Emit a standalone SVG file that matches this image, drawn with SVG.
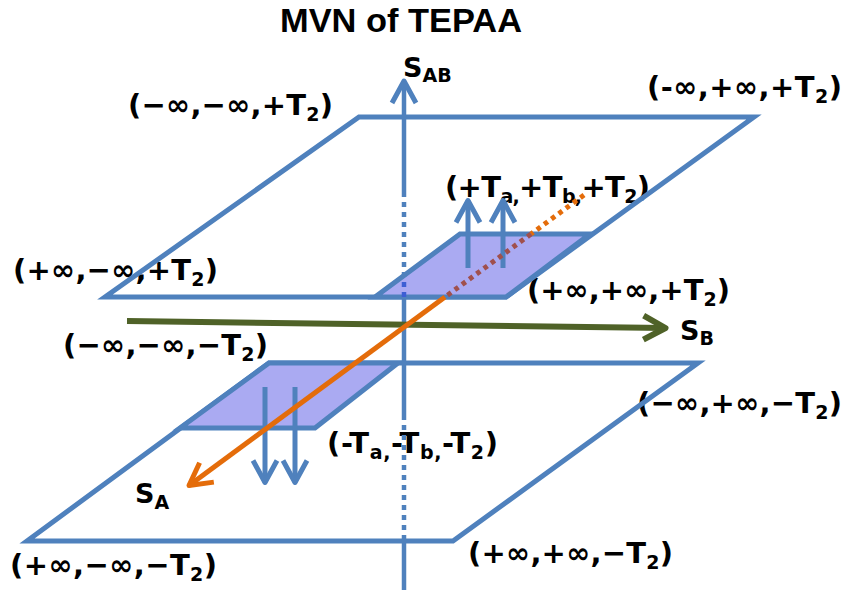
<svg xmlns="http://www.w3.org/2000/svg" width="845" height="599" viewBox="0 0 845 599">
<style>
  .lbl { font-family: "DejaVu Sans", "Liberation Sans", sans-serif; font-weight: bold; font-size: 29px; fill: #000; }
  .sub { font-size: 19px; }
  .s { font-family: "DejaVu Sans", "Liberation Sans", sans-serif; font-weight: bold; font-size: 27px; fill: #000; }
  .title { font-family: "Liberation Sans", Arial, sans-serif; font-weight: bold; font-size: 33px; fill: #000; }
  .plane { fill: none; stroke: #4f81bd; stroke-width: 5; stroke-linejoin: miter; }
  .region { fill: #aaaaf2; stroke: #4f81bd; stroke-width: 5; stroke-linejoin: miter; }
  .blue { stroke: #4f81bd; stroke-width: 5; fill: none; }
  .axis { stroke: #4f81bd; stroke-width: 4.5; fill: none; }
  .dash { stroke-dasharray: 5 5; }
  .green { stroke: #4f6228; stroke-width: 6; fill: none; }
  .orange { stroke: #e46c0a; stroke-width: 5; fill: none; }
  .odot { stroke-dasharray: 4.5 4.5; }
</style>
<defs>
  <marker id="ah-blue" markerUnits="userSpaceOnUse" viewBox="-30 -20 40 40" markerWidth="40" markerHeight="40" refX="0" refY="0" orient="auto" overflow="visible">
    <path d="M-22,-12 L0,0 L-22,12" fill="none" stroke="#4f81bd" stroke-width="5" stroke-linejoin="round"/>
  </marker>
  <marker id="ah-green" markerUnits="userSpaceOnUse" viewBox="-30 -20 40 40" markerWidth="40" markerHeight="40" refX="0" refY="0" orient="auto" overflow="visible">
    <path d="M-22,-12 L0,0 L-22,12" fill="none" stroke="#4f6228" stroke-width="6" stroke-linejoin="round"/>
  </marker>
  <marker id="ah-orange" markerUnits="userSpaceOnUse" viewBox="-30 -20 40 40" markerWidth="40" markerHeight="40" refX="0" refY="0" orient="auto" overflow="visible">
    <path d="M-22,-12 L0,0 L-22,12" fill="none" stroke="#e46c0a" stroke-width="5" stroke-linejoin="round"/>
  </marker>
</defs>

<text class="title" x="401" y="32" text-anchor="middle" textLength="242" lengthAdjust="spacingAndGlyphs">MVN of TEPAA</text>

<g id="labels">
  <text class="lbl" x="128" y="115" textLength="205">(−∞,−∞,+T<tspan class="sub" dy="6">2</tspan><tspan dy="-6">)</tspan></text>
  <text class="lbl" x="647" y="97" textLength="195">(-∞,+∞,+T<tspan class="sub" dy="6">2</tspan><tspan dy="-6">)</tspan></text>
  <text class="lbl" x="13" y="280" textLength="205">(+∞,−∞,+T<tspan class="sub" dy="6">2</tspan><tspan dy="-6">)</tspan></text>
  <text class="lbl" x="527" y="300" textLength="203">(+∞,+∞,+T<tspan class="sub" dy="6">2</tspan><tspan dy="-6">)</tspan></text>
  <text class="lbl" x="63" y="355" textLength="205">(−∞,−∞,−T<tspan class="sub" dy="6">2</tspan><tspan dy="-6">)</tspan></text>
  <text class="lbl" x="637" y="413" textLength="205">(−∞,+∞,−T<tspan class="sub" dy="6">2</tspan><tspan dy="-6">)</tspan></text>
  <text class="lbl" x="10" y="575" textLength="207">(+∞,−∞,−T<tspan class="sub" dy="6">2</tspan><tspan dy="-6">)</tspan></text>
  <text class="lbl" x="468" y="563" textLength="205">(+∞,+∞,−T<tspan class="sub" dy="6">2</tspan><tspan dy="-6">)</tspan></text>
  <text class="lbl" x="445" y="197" textLength="205">(+T<tspan class="sub" dy="6">a,</tspan><tspan dy="-6">+T</tspan><tspan class="sub" dy="6">b,</tspan><tspan dy="-6">+T</tspan><tspan class="sub" dy="6">2</tspan><tspan dy="-6">)</tspan></text>
  <text class="lbl" x="327" y="453" textLength="171">(-T<tspan class="sub" dy="6">a,</tspan><tspan dy="-6">-T</tspan><tspan class="sub" dy="6">b,</tspan><tspan dy="-6">-T</tspan><tspan class="sub" dy="6">2</tspan><tspan dy="-6">)</tspan></text>
  <text class="s" x="403" y="77">S<tspan class="sub" dy="5">AB</tspan></text>
  <text class="s" x="680" y="340">S<tspan class="sub" dy="5">B</tspan></text>
  <text class="s" x="135" y="503">S<tspan class="sub" dy="6">A</tspan></text>
</g>

<g id="plane-top">
  <polygon class="plane" points="359,117 754,117 506,297 105,297"/>
</g>
<g id="region-top">
  <polygon class="region" points="460,234 590,234 506,297 375,297"/>
</g>
<g id="plane-bottom">
  <polygon class="plane" points="269,363 698,363 453,541 27,541"/>
</g>
<g id="region-bottom">
  <polygon class="region" points="269,363 398,363 315,428 180,428"/>
</g>

<g id="connectors">
  <line class="blue" x1="468" y1="268" x2="468" y2="200.5" marker-end="url(#ah-blue)"/>
  <line class="blue" x1="503" y1="268" x2="503" y2="200.5" marker-end="url(#ah-blue)"/>
  <line class="blue" x1="265" y1="387" x2="265" y2="482.5" marker-end="url(#ah-blue)"/>
  <line class="blue" x1="295" y1="387" x2="295" y2="482.5" marker-end="url(#ah-blue)"/>
  <line class="axis" x1="404" y1="590" x2="404" y2="540"/>
  <line class="axis dash" x1="404" y1="540" x2="404" y2="420"/>
  <line class="axis" x1="404" y1="420" x2="404" y2="297"/>
  <line class="axis dash" x1="404" y1="297" x2="404" y2="277" style="stroke:#3d5fd4"/>
  <line class="axis dash" x1="404" y1="277" x2="404" y2="193"/>
  <line class="axis" x1="404" y1="193" x2="404" y2="81" marker-end="url(#ah-blue)"/>
  <line class="green" x1="127" y1="321" x2="665.5" y2="328" marker-end="url(#ah-green)"/>
  <line class="orange odot" x1="584" y1="195" x2="531" y2="234"/>
  <line class="orange odot" x1="531" y1="234" x2="445" y2="297" style="stroke:#a0504d"/>
  <line class="orange" x1="445" y1="297" x2="189" y2="485.5" marker-end="url(#ah-orange)"/>
</g>
</svg>
